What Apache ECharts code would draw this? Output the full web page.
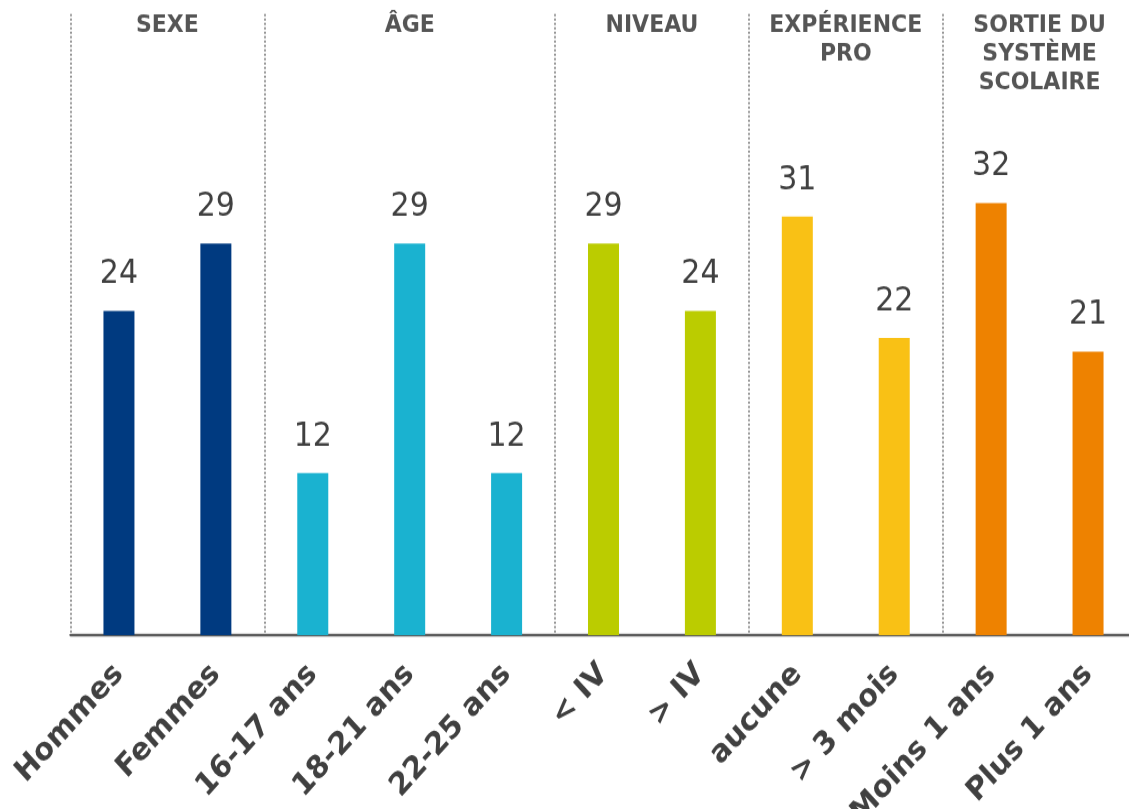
<!DOCTYPE html>
<html>
<head>
<meta charset="utf-8">
<script src="https://cdn.jsdelivr.net/npm/echarts@6/dist/echarts.min.js"></script>
<style>
  html, body { margin: 0; padding: 0; background: #ffffff; width: 1129px; height: 809px; overflow: hidden; }
  #page { position: relative; width: 1129px; height: 809px; overflow: hidden; background: #ffffff; }
  /* the chart is drawn at 1129x735 and stretched to fill the 809px-high page */
  #chart { position: absolute; left: 0; top: 0; width: 1129px; height: 735px; transform-origin: 0 0; transform: scaleY(1.1007); }
</style>
</head>
<body>
<div id="page"><div id="chart"></div></div>
<script>
// Profil des jeunes : part (%) par catégorie
const categories = ['Hommes', 'Femmes', '16-17 ans', '18-21 ans', '22-25 ans', '< IV', '> IV', 'aucune', '> 3 mois', 'Moins 1 ans', 'Plus 1 ans'];
const values = [24, 29, 12, 29, 12, 29, 24, 31, 22, 32, 21];

// Groupes de catégories (titre, nombre de barres)
const groupTitles = ['SEXE', 'ÂGE', 'NIVEAU', 'EXPÉRIENCE\nPRO', 'SORTIE DU\nSYSTÈME\nSCOLAIRE'];
const groupSizes = [2, 3, 2, 2, 2];
const groupColors = ['#003A80', '#1AB2D0', '#BBCC00', '#F9C115', '#EE8200'];

const Y_MAX = 46;

// index de début de chaque groupe et couleur de chaque barre
const groupStarts = [];
const barColors = [];
let pos = 0;
groupSizes.forEach((n, g) => {
  groupStarts.push(pos);
  for (let i = 0; i < n; i++) barColors.push(groupColors[g]);
  pos += n;
});

// zones invisibles portant le titre de chaque groupe
const groupAreas = groupTitles.map((title, g) => {
  const first = groupStarts[g];
  const last = first + groupSizes[g] - 1;
  return [
    { name: title, xAxis: categories[first], yAxis: Y_MAX },
    { xAxis: categories[last], yAxis: 0 }
  ];
});

const chart = echarts.init(document.getElementById('chart'), null, { renderer: 'canvas' });
chart.setOption({
  animation: false,
  backgroundColor: '#ffffff',
  grid: { left: 70.5, width: 1066, top: 12.7, bottom: 158, containLabel: false, outerBoundsMode: 'none' },
  xAxis: {
    type: 'category',
    data: categories,
    boundaryGap: true,
    axisLine: { show: true, lineStyle: { color: '#5a5a5a', width: 2.3 } },
    axisTick: { show: false },
    axisLabel: {
      interval: 0,
      rotate: 45,
      margin: 31,
      hideOverlap: false,
      fontFamily: 'DejaVu Sans',
      fontWeight: 'bold',
      fontSize: 28.5,
      color: '#404040'
    },
    splitLine: {
      show: true,
      interval: (index) => groupStarts.includes(index),
      lineStyle: { type: [2, 2], color: '#777777', width: 1.5 }
    }
  },
  yAxis: {
    type: 'value',
    min: 0,
    max: Y_MAX,
    show: false,
    splitLine: { show: false }
  },
  series: [{
    type: 'bar',
    barWidth: 31,
    data: values.map((v, i) => ({ value: v, itemStyle: { color: barColors[i] } })),
    label: {
      show: true,
      position: 'top',
      distance: 18,
      fontFamily: 'DejaVu Sans',
      fontSize: 30,
      color: '#404040'
    },
    markArea: {
      silent: true,
      itemStyle: { color: 'rgba(0,0,0,0)' },
      label: {
        show: true,
        position: 'insideTop',
        distance: 0,
        offset: [0, -2],
        align: 'center',
        fontFamily: 'DejaVu Sans',
        fontWeight: 'bold',
        fontSize: 22,
        lineHeight: 26,
        color: '#555555'
      },
      data: groupAreas
    }
  }]
});
</script>
</body>
</html>
